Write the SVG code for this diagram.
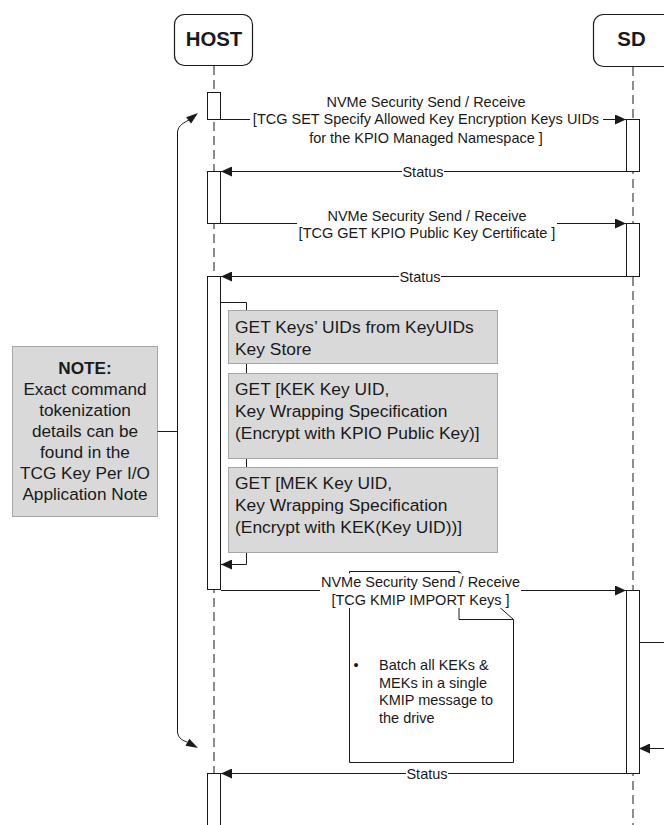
<svg xmlns="http://www.w3.org/2000/svg" width="664" height="825" viewBox="0 0 664 825">
<defs>
<marker id="ah" markerUnits="userSpaceOnUse" markerWidth="11" markerHeight="10" refX="11" refY="5" orient="auto"><path d="M0,0 L11,5 L0,10 z" fill="#1a1a1a"/></marker>
</defs>
<style>
text{font-family:"Liberation Sans",Arial,sans-serif;fill:#1a1a1a}
.m{font-size:14.5px;text-anchor:middle}
.b{font-size:17.4px}
.n{font-size:17.2px;text-anchor:middle}
.hd{font-size:20.4px;font-weight:bold;text-anchor:middle}
.ln{stroke:#1a1a1a;stroke-width:1;fill:none}
.life{stroke:#1a1a1a;stroke-width:1;stroke-dasharray:9 5}
.act{fill:#fff;stroke:#1a1a1a;stroke-width:1}
.head{fill:#fff;stroke:#1a1a1a;stroke-width:1.2}
.gbox{fill:#d9d9d9;stroke:#a6a6a6;stroke-width:1}
.bg{fill:#fff}
</style>
<rect width="664" height="825" fill="#fff"/>

<g id="lifelines">
<line x1="214" y1="66" x2="214" y2="825" class="life"/>
<line x1="633" y1="67" x2="633" y2="825" class="life"/>
</g>

<g id="host"><rect x="174.5" y="14.5" width="78" height="51" rx="10" class="head"/><text x="214" y="46" class="hd">HOST</text></g>
<g id="sd"><rect x="593.5" y="14.5" width="90" height="52" rx="10" class="head"/><text x="631.5" y="46" class="hd">SD</text></g>

<g id="note">
<rect x="12.5" y="346.5" width="145" height="170" class="gbox"/>
<text x="85" y="374" class="n" font-weight="bold">NOTE:</text>
<text x="85" y="395" class="n">Exact command</text>
<text x="85" y="416" class="n">tokenization</text>
<text x="85" y="437" class="n">details can be</text>
<text x="85" y="457.5" class="n">found in the</text>
<text x="85" y="478.5" class="n">TCG Key Per I/O</text>
<text x="85" y="499.5" class="n">Application Note</text>
</g>

<g id="callout">
<polygon points="349.5,571.5 459,571.5 513.5,619.5 513.5,762.5 349.5,762.5" fill="#fff" stroke="#1a1a1a"/>
<polyline points="459,571.5 459,619.5 513.5,619.5" class="ln"/>
<text x="356" y="670" class="m">•</text>
<text x="379" y="670" font-size="14.5px">Batch all KEKs &amp;</text>
<text x="379" y="687.5" font-size="14.5px">MEKs in a single</text>
<text x="379" y="705" font-size="14.5px">KMIP message to</text>
<text x="379" y="722.5" font-size="14.5px">the drive</text>
</g>

<g id="activations">
<rect x="207.5" y="92.5" width="13" height="27" class="act"/>
<rect x="207.5" y="171.5" width="13" height="52" class="act"/>
<rect x="207.5" y="276.5" width="13" height="313" class="act"/>
<rect x="207.5" y="773.5" width="13" height="60" class="act"/>
<rect x="626.5" y="119.5" width="13" height="52" class="act"/>
<rect x="626.5" y="223.5" width="13" height="53" class="act"/>
<rect x="626.5" y="590.5" width="13" height="183" class="act"/>
</g>

<g id="connectors">
<line x1="221" y1="119.5" x2="626" y2="119.5" class="ln" marker-end="url(#ah)"/>
<line x1="626" y1="171.5" x2="221" y2="171.5" class="ln" marker-end="url(#ah)"/>
<line x1="221" y1="223.5" x2="626" y2="223.5" class="ln" marker-end="url(#ah)"/>
<line x1="626" y1="276.5" x2="221" y2="276.5" class="ln" marker-end="url(#ah)"/>
<path d="M221,302.5 H246.5 V564.5 H221" class="ln" marker-end="url(#ah)"/>
<line x1="221" y1="590.5" x2="626" y2="590.5" class="ln" marker-end="url(#ah)"/>
<line x1="639" y1="642.5" x2="664" y2="642.5" class="ln"/>
<line x1="664" y1="748.5" x2="639" y2="748.5" class="ln" marker-end="url(#ah)"/>
<line x1="626" y1="773.5" x2="221" y2="773.5" class="ln" marker-end="url(#ah)"/>
<path d="M189,120 C181,124 177.5,127 177.5,133 V731 C177.5,737 181,740 187.5,742.2" class="ln"/>
<polygon points="198,113 191.1,123.5 186.1,117.3" fill="#1a1a1a"/>
<polygon points="198,748 185.5,745.7 189.3,738.7" fill="#1a1a1a"/>
<line x1="157.5" y1="431.5" x2="177.5" y2="431.5" class="ln"/>
</g>

<g id="steps">
<rect x="228.5" y="310.5" width="269" height="53" class="gbox"/>
<text x="235" y="333" class="b">GET Keys’ UIDs from KeyUIDs</text>
<text x="235" y="355" class="b">Key Store</text>
<rect x="228.5" y="373.5" width="269" height="85" class="gbox"/>
<text x="235" y="395" class="b">GET [KEK Key UID,</text>
<text x="235" y="417" class="b">Key Wrapping Specification</text>
<text x="235" y="439" class="b">(Encrypt with KPIO Public Key)]</text>
<rect x="228.5" y="467.5" width="269" height="85" class="gbox"/>
<text x="235" y="489" class="b">GET [MEK Key UID,</text>
<text x="235" y="511" class="b">Key Wrapping Specification</text>
<text x="235" y="533" class="b">(Encrypt with KEK(Key UID))]</text>
</g>

<g id="labels">
<rect x="250" y="113" width="353" height="14" class="bg"/>
<text x="426" y="106.5" class="m">NVMe Security Send / Receive</text>
<text x="426" y="124" class="m">[TCG SET Specify Allowed Key Encryption Keys UIDs</text>
<text x="426" y="143" class="m">for the KPIO Managed Namespace ]</text>
<rect x="402" y="165" width="42" height="13" class="bg"/>
<text x="423" y="176.5" class="m">Status</text>
<rect x="297" y="217" width="260" height="13" class="bg"/>
<text x="427" y="220.5" class="m">NVMe Security Send / Receive</text>
<text x="427" y="238" class="m">[TCG GET KPIO Public Key Certificate ]</text>
<rect x="399" y="270" width="42" height="13" class="bg"/>
<text x="420" y="281.5" class="m">Status</text>
<rect x="320" y="573.5" width="201" height="34.5" class="bg"/>
<text x="420.5" y="587" class="m">NVMe Security Send / Receive</text>
<text x="420.5" y="604.5" class="m">[TCG KMIP IMPORT Keys ]</text>
<rect x="406" y="767" width="42" height="13" class="bg"/>
<text x="427" y="778.5" class="m">Status</text>
</g>
</svg>
